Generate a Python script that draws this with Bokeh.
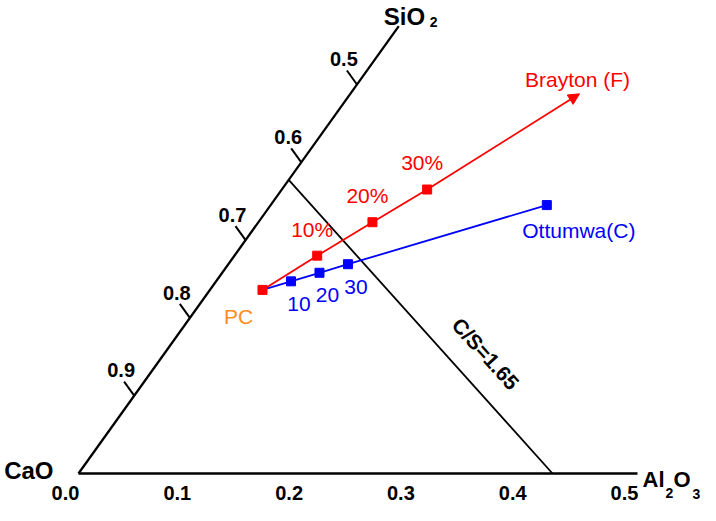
from bokeh.plotting import figure
from bokeh.models import Range1d, Arrow, NormalHead
from bokeh.core.properties import value
from bokeh.embed import file_html
from bokeh.resources import INLINE

# ---- data (compositions as fractions: SiO2, Al2O3; CaO = 1 - SiO2 - Al2O3) ----
pc_si, pc_al = 0.236, 0.047
brayton_si = [0.236, 0.280, 0.323, 0.365]
brayton_al = [0.047, 0.074, 0.102, 0.130]
brayton_labels = ["", "10%", "20%", "30%"]
brayton_dir_si, brayton_dir_al = 0.488, 0.205   # arrow tip
ottumwa_si = [0.236, 0.247, 0.258, 0.269, 0.345]
ottumwa_al = [0.047, 0.067, 0.087, 0.107, 0.247]
ottumwa_labels = ["", "10", "20", "30", ""]
cs_ratio = 1.65
cs_line_al_bottom = 0.424
cao_ticks = [0.9, 0.8, 0.7, 0.6, 0.5]
al_ticks = [0.0, 0.1, 0.2, 0.3, 0.4, 0.5]
sio2_axis_max = 0.575
al_axis_max = 0.5

# ---- ternary-like transform (skewed frame as in reference) ----
KX = 557 / 1118
KY = 778 / 1118
def tx(si, al):
    return al + si * KX
def ty(si, al):
    return si * KY

S = 1118.0
W, H = 700, 505
OX, OY = 78, 473   # canvas pixel of the CaO corner
p = figure(width=W, height=H, output_backend="svg", toolbar_location=None,
           x_range=Range1d(-OX / S, (W - OX) / S), y_range=Range1d(-(H - OY) / S, OY / S),
           min_border=0)
p.axis.visible = False
p.grid.visible = False
p.outline_line_color = None
p.background_fill_color = "white"

BF = value("Liberation Sans")

def label(xs, ys, texts, size, color="black", bold=False, align="center", dx=0, dy=0, **kw):
    # dy is the wanted baseline offset; compensate the renderer's baseline shift
    p.text(xs, ys, text=texts, text_font=BF, text_font_style="bold" if bold else "normal",
           text_font_size=f"{size}px", text_align=align, text_baseline="alphabetic",
           x_offset=dx, y_offset=dy - 0.36 * size, text_color=color, **kw)

# frame lines
p.line([tx(0, 0), tx(0, al_axis_max)], [ty(0, 0), ty(0, al_axis_max)], line_color="black", line_width=2.3)
p.line([tx(0, 0), tx(sio2_axis_max, 0)], [ty(0, 0), ty(sio2_axis_max, 0)], line_color="black", line_width=2.3)

# C/S line
cs_si_top = 1 / (1 + cs_ratio)
p.line([tx(cs_si_top, 0), tx(0, cs_line_al_bottom)], [ty(cs_si_top, 0), ty(0, cs_line_al_bottom)],
       line_color="black", line_width=1.8)
mx = (tx(cs_si_top, 0) + tx(0, cs_line_al_bottom)) / 2
my = (ty(cs_si_top, 0) + ty(0, cs_line_al_bottom)) / 2
p.text([mx], [my], text=["C/S=1.65"], angle=-48, angle_units="deg", text_font=BF,
       text_font_style="bold", text_font_size="21px", text_align="center", text_baseline="middle",
       x_offset=65, y_offset=27, text_color="black")

# left ticks (iso-CaO) and labels
tl = 0.018
t_x0 = [tx(1 - v, 0) for v in cao_ticks]
t_y0 = [ty(1 - v, 0) for v in cao_ticks]
t_x1 = [tx(1 - v + tl, -tl) for v in cao_ticks]
t_y1 = [ty(1 - v + tl, -tl) for v in cao_ticks]
p.segment(t_x0, t_y0, t_x1, t_y1, line_color="black", line_width=2)
label(t_x1, t_y1, [f"{v:.1f}" for v in cao_ticks], 20, bold=True, dx=-3, dy=-4)

# bottom labels
label([tx(0, v) for v in al_ticks], [ty(0, v) for v in al_ticks], [f"{v:.1f}" for v in al_ticks],
      20, bold=True, dx=-13, dy=27)

# corner labels
label([tx(0, 0)], [ty(0, 0)], ["CaO"], 24, bold=True, align="right", dx=-25, dy=6)
ax_, ay_ = tx(sio2_axis_max, 0), ty(sio2_axis_max, 0)
label([ax_], [ay_], ["SiO"], 24, bold=True, align="left", dx=-15, dy=-1)
label([ax_], [ay_], ["2"], 14, bold=True, align="left", dx=31, dy=1)
bx_, by_ = tx(0, al_axis_max), ty(0, al_axis_max)
for s, dx, dy, fs in [("Al", 5, 14, 22), ("2", 28, 25, 14), ("O", 36, 14, 22), ("3", 55, 26, 14)]:
    label([bx_], [by_], [s], fs, bold=True, align="left", dx=dx, dy=dy)

# Brayton (F) series
bxs = [tx(s, a) for s, a in zip(brayton_si, brayton_al)]
bys = [ty(s, a) for s, a in zip(brayton_si, brayton_al)]
p.line(bxs, bys, line_color="#FF0000", line_width=1.8)
p.add_layout(Arrow(end=NormalHead(size=11, fill_color="#FF0000", line_color="#FF0000"),
                   x_start=bxs[-1], y_start=bys[-1],
                   x_end=tx(brayton_dir_si, brayton_dir_al), y_end=ty(brayton_dir_si, brayton_dir_al),
                   line_color="#FF0000", line_width=1.8))

# Ottumwa (C) series
oxs = [tx(s, a) for s, a in zip(ottumwa_si, ottumwa_al)]
oys = [ty(s, a) for s, a in zip(ottumwa_si, ottumwa_al)]
p.line(oxs, oys, line_color="#0000FF", line_width=1.8)
p.scatter(oxs[1:], oys[1:], marker="square", size=9, fill_color="#0000FF", line_color="#0000FF")
p.scatter(bxs, bys, marker="square", size=9, fill_color="#FF0000", line_color="#FF0000")

# labels
label(bxs[1:], bys[1:], brayton_labels[1:], 21, color="#FF0000", dx=-5, dy=-19)
label(oxs[1:4], oys[1:4], ottumwa_labels[1:4], 21, color="#0000FF", dx=8, dy=30)
label([tx(brayton_dir_si, brayton_dir_al)], [ty(brayton_dir_si, brayton_dir_al)], ["Brayton (F)"],
      21, color="#FF0000", dx=-2, dy=-7)
label([oxs[-1]], [oys[-1]], ["Ottumwa(C)"], 21, color="#0000FF", dx=32, dy=33)
label([tx(pc_si, pc_al)], [ty(pc_si, pc_al)], ["PC"], 21, color="#FF8C1A", dx=-24, dy=34)

open("out.html", "w").write(file_html(p, INLINE))
